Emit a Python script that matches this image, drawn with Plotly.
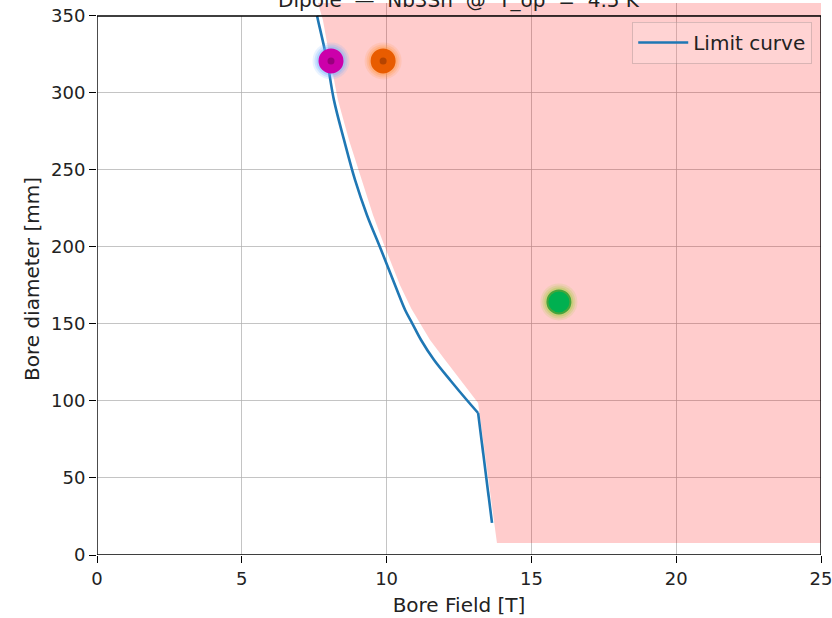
import plotly.graph_objects as go

# Limit curve (bore field vs bore diameter)
limit_B = [7.60, 7.63, 7.94, 8.18, 8.53, 8.91, 9.32, 9.77, 10.29, 10.64, 10.88, 11.19, 11.64, 12.22, 12.74, 13.16, 13.40, 13.64]
limit_D = [350, 347.4, 321.4, 295.5, 269.5, 243.5, 220.8, 200, 175.3, 159.1, 150.6, 139.6, 126.6, 113.0, 101.3, 92.2, 55, 20.8]
KINK = 15  # index of the kink point (B=13.16 T, D=92 mm)

# Shaded (forbidden) zone outline
zone_B = [7.63, 7.80, 8.05, 8.32, 8.70, 9.15, 9.53, 9.94, 10.46, 10.85, 11.08, 11.50, 12.02, 12.60, 13.16, 13.81, 25.0, 25.0]
zone_D = [358.4, 347.4, 321.4, 295.5, 269.5, 243.5, 220.8, 200.0, 175.3, 160.0, 152.6, 139.6, 126.6, 112.3, 98.7, 7.8, 7.8, 358.4]

# Design points
pts_B = [8.08, 9.88, 15.95]
pts_D = [320.8, 320.8, 164.3]
pts_core = ["rgb(204,0,170)", "rgb(232,92,0)", "rgb(0,176,80)"]
pts_line = ["rgb(204,0,170)", "rgb(232,92,0)", "rgb(70,165,60)"]
pts_glow = ["rgb(110,175,255)", "rgb(255,150,60)", "rgb(160,205,60)"]
pts_center = ["rgba(90,0,70,0.45)", "rgba(120,40,0,0.45)", "rgba(0,110,40,0.0)"]

x_ticks = [0, 5, 10, 15, 20, 25]
y_ticks = [0, 50, 100, 150, 200, 250, 300, 350]

FONT = "DejaVu Sans"
BLUE = "#1f77b4"

fig = go.Figure()

fig.add_trace(go.Scatter(
    x=zone_B, y=zone_D, mode="lines", fill="toself",
    fillcolor="rgba(255,0,0,0.2)", line=dict(width=0),
    hoverinfo="skip", showlegend=False))

fig.add_trace(go.Scatter(
    x=limit_B[:KINK + 1], y=limit_D[:KINK + 1], mode="lines", name="Limit curve",
    line=dict(color=BLUE, width=2.6, shape="spline", smoothing=1.0)))
fig.add_trace(go.Scatter(
    x=limit_B[KINK:], y=limit_D[KINK:], mode="lines", showlegend=False,
    line=dict(color=BLUE, width=2.6)))

# glow layers
for size, op in [(37, 0.15), (33, 0.22), (29, 0.32)]:
    fig.add_trace(go.Scatter(
        x=pts_B, y=pts_D, mode="markers", showlegend=False, hoverinfo="skip",
        marker=dict(size=size, color=pts_glow, opacity=op, line=dict(width=0))))

fig.add_trace(go.Scatter(
    x=pts_B, y=pts_D, mode="markers", showlegend=False,
    marker=dict(size=23, color=pts_core, line=dict(width=2, color=pts_line))))

fig.add_trace(go.Scatter(
    x=pts_B, y=pts_D, mode="markers", showlegend=False, hoverinfo="skip",
    marker=dict(size=7, color=pts_center, line=dict(width=0))))

axis_common = dict(
    showline=False, zeroline=False, showgrid=True, automargin=False,
    gridcolor="rgba(176,176,176,0.75)", gridwidth=1.3,
    ticks="outside", ticklen=7, tickwidth=1.3, tickcolor="black",
    tickfont=dict(family=FONT, size=18, color="#222"),
    ticklabeloverflow="allow",
)

fig.update_xaxes(range=[0, 25], tickvals=x_ticks, **axis_common,
                 title=dict(text="Bore Field [T]", font=dict(family=FONT, size=20, color="#222"), standoff=10))
fig.update_yaxes(range=[0, 358.4], tickvals=y_ticks, **axis_common,
                 title=dict(text="Bore diameter [mm]", font=dict(family=FONT, size=20, color="#222"), standoff=6))

fig.update_layout(
    width=832, height=618,
    margin=dict(l=97, r=11, t=3, b=63),
    plot_bgcolor="white", paper_bgcolor="white",
    font=dict(family=FONT, size=18, color="#222"),
    showlegend=True,
    legend=dict(x=0.9876, y=0.966, xanchor="right", yanchor="top",
                bgcolor="rgba(255,255,255,0.15)", bordercolor="rgba(170,150,150,0.45)",
                borderwidth=1.2, itemwidth=50,
                font=dict(family=FONT, size=20, color="#222")),
    shapes=[
        dict(type="rect", xref="x", yref="y", x0=0, x1=7.6, y0=350, y1=358.4,
             fillcolor="white", line=dict(width=0), layer="between"),
        dict(type="rect", xref="x", yref="y", x0=0, x1=25, y0=0, y1=350,
             line=dict(color="black", width=1.4), fillcolor="rgba(0,0,0,0)", layer="above"),
    ],
    annotations=[
        dict(text="Dipole  \u2014  Nb3Sn  @  T_op  =  4.5 K", xref="paper", yref="paper",
             x=0.5, y=1.0054, xanchor="center", yanchor="middle", showarrow=False,
             font=dict(family=FONT, size=20, color="#222")),
    ],
)

fig.write_html("out.html")
